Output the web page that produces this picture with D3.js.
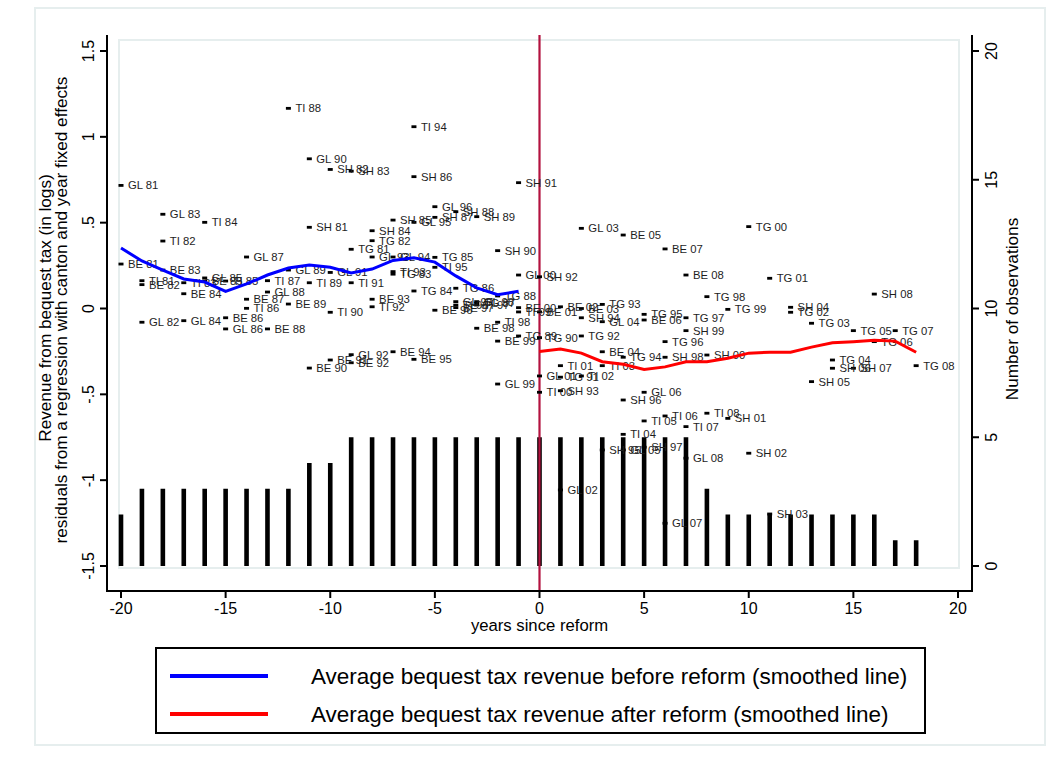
<!DOCTYPE html>
<html>
<head>
<meta charset="utf-8">
<script src="https://cdn.jsdelivr.net/npm/d3@7"></script>
<style>
  html, body { margin: 0; padding: 0; background: #fff; }
  svg text { font-family: "Liberation Sans", Arial, Helvetica, sans-serif; }
</style>
</head>
<body>
<svg id="chart" width="1053" height="765"></svg>
<script>
// Calendar years and their two-digit labels
const calYears = [1981,1982,1983,1984,1985,1986,1987,1988,1989,1990,1991,1992,1993,1994,
                  1995,1996,1997,1998,1999,2000,2001,2002,2003,2004,2005,2006,2007,2008];
const yearLabels = ["81","82","83","84","85","86","87","88","89","90","91","92","93","94",
                    "95","96","97","98","99","00","01","02","03","04","05","06","07","08"];

// Cantons and the year each reformed its bequest tax
const cantons = ["BE", "GL", "TI", "SH", "TG"];
const reformYears = [2001, 2001, 2000, 1992, 1990];

// Residual log revenue per canton, 1981-2008
const beResid = [0.259, 0.139, 0.224, 0.086, 0.160, -0.054, 0.054, -0.119, 0.026, -0.347,
                 -0.300, -0.316, 0.054, -0.252, -0.296, -0.010, 0.005, -0.115, -0.190, 0.005,
                 -0.020, 0.010, 0.000, -0.252, 0.428, -0.067, 0.347, 0.195];
const glResid = [0.717, -0.080, 0.549, -0.071, 0.178, -0.119, 0.300, 0.096, 0.224, 0.872,
                 0.210, -0.269, 0.300, 0.300, 0.502, 0.593, 0.040, 0.040, -0.440, 0.195,
                 -0.393, -1.057, 0.467, -0.077, -0.824, -0.488, -1.251, -0.872];
const tiResid = [0.162, 0.393, 0.150, 0.502, 0.160, 0.001, 0.162, 1.166, 0.150, -0.022,
                 0.150, 0.010, 0.215, 1.059, 0.240, 0.020, 0.020, -0.080, -0.020, -0.488,
                 -0.333, -0.393, -0.333, -0.733, -0.655, -0.626, -0.688, -0.610];
const shResid = [0.473, 0.810, 0.800, 0.453, 0.515, 0.768, 0.531, 0.564, 0.535, 0.337,
                 0.733, 0.185, -0.479, -0.054, -0.824, -0.533, -0.808, -0.284, -0.129, -0.271,
                 -0.640, -0.843, -1.197, 0.007, -0.426, -0.348, -0.348, 0.084];
const tgResid = [0.345, 0.395, 0.200, 0.102, 0.298, 0.118, 0.030, 0.073, -0.160, -0.170,
                 -0.400, -0.160, 0.024, -0.284, -0.034, -0.193, -0.054, 0.069, -0.005, 0.477,
                 0.176, -0.022, -0.086, -0.300, -0.129, -0.193, -0.129, -0.333];
const residSeries = [beResid, glResid, tiResid, shResid, tgResid];

// Number of observations at each year relative to reform
const obsX = [-20,-19,-18,-17,-16,-15,-14,-13,-12,-11,-10,-9,-8,-7,-6,-5,-4,-3,-2,-1,
              0,1,2,3,4,5,6,7,8,9,10,11,12,13,14,15,16,17,18];
const obsN = [2,3,3,3,3,3,3,3,3,4,4,5,5,5,5,5,5,5,5,5,
              5,5,5,5,5,5,5,5,3,2,2,2,2,2,2,2,2,1,1];

// Smoothed averages before and after the reform
const beforeX = [-20,-19,-18,-17,-16,-15,-14,-13,-12,-11,-10,-9,-8,-7,-6,-5,-4,-3,-2,-1];
const beforeY = [0.352,0.277,0.224,0.172,0.154,0.100,0.143,0.195,0.236,0.253,0.240,0.207,
                 0.230,0.280,0.295,0.270,0.190,0.120,0.080,0.100];
const afterX = [0,1,2,3,4,5,6,7,8,9,10,11,12,13,14,15,16,17,18];
const afterY = [-0.250,-0.236,-0.260,-0.310,-0.325,-0.355,-0.340,-0.310,-0.310,-0.290,
                -0.260,-0.255,-0.255,-0.225,-0.200,-0.193,-0.185,-0.190,-0.255];

// Axis ticks
const xTicks = [-20,-15,-10,-5,0,5,10,15,20];
const yTicks = [-1.5,-1,-0.5,0,0.5,1,1.5];
const yTickLabels = ["-1.5","-1","-.5","0",".5","1","1.5"];
const nTicks = [0,5,10,15,20];

const legendLabels = ["Average bequest tax revenue before reform (smoothed line)",
                      "Average bequest tax revenue after reform (smoothed line)"];
const legendColors = ["#0000ff", "#ff0000"];

const svg = d3.select("#chart");

const x = d3.scaleLinear().domain([-20, 20]).range([121, 958]);
const y = d3.scaleLinear().domain([-1.5, 1.5]).range([566, 51]);
const yN = d3.scaleLinear().domain([0, 20]).range([566, 51]);

// Outer graph frame
svg.append("rect").attr("x", 35).attr("y", 8).attr("width", 1010).attr("height", 737)
  .attr("fill", "#fff").attr("stroke", "#e6eeee").attr("stroke-width", 2);

// Plot region frame
svg.append("rect").attr("x", 119).attr("y", 40).attr("width", 840).attr("height", 528)
  .attr("fill", "#fff").attr("stroke", "#e6eeee").attr("stroke-width", 2);

// Observation-count bars on the right axis
const barW = x(0.22) - x(0);
svg.append("g").selectAll("rect").data(obsX).join("rect")
  .attr("x", (d) => x(d) - barW / 2)
  .attr("width", barW)
  .attr("y", (d, i) => yN(obsN[i]))
  .attr("height", (d, i) => yN(0) - yN(obsN[i]))
  .attr("fill", "#000");

// Reform line at year zero
svg.append("line").attr("x1", x(0)).attr("x2", x(0)).attr("y1", 35).attr("y2", 591)
  .attr("stroke", "#b3123f").attr("stroke-width", 2.2);

// Labelled canton-year points
const points = [];
cantons.forEach((c, ci) => {
  calYears.forEach((yr, yi) => {
    points.push({ x: yr - reformYears[ci], v: residSeries[ci][yi], label: c + " " + yearLabels[yi] });
  });
});
const pg = svg.append("g");
pg.selectAll("rect").data(points).join("rect")
  .attr("x", (d) => x(d.x) - 2.5).attr("y", (d) => y(d.v) - 1.4)
  .attr("width", 5).attr("height", 2.8).attr("fill", "#000");
pg.selectAll("text").data(points).join("text")
  .attr("x", (d) => x(d.x) + 7).attr("y", (d) => y(d.v) + 4)
  .attr("font-size", 11.3).attr("fill", "#1e1e1e").text((d) => d.label);

// Smoothed lines
const line = d3.line().x((d) => x(d[0])).y((d) => y(d[1]));
svg.append("path").datum(beforeX.map((d, i) => [d, beforeY[i]]))
  .attr("d", line).attr("fill", "none").attr("stroke", "#0000ff").attr("stroke-width", 3);
svg.append("path").datum(afterX.map((d, i) => [d, afterY[i]]))
  .attr("d", line).attr("fill", "none").attr("stroke", "#ff0000").attr("stroke-width", 3);

// Left axis
const axL = svg.append("g");
axL.append("line").attr("x1", 107).attr("x2", 107).attr("y1", 35).attr("y2", 592)
  .attr("stroke", "#000").attr("stroke-width", 2);
yTicks.forEach((t, i) => {
  axL.append("line").attr("x1", 100).attr("x2", 107).attr("y1", y(t)).attr("y2", y(t))
    .attr("stroke", "#000").attr("stroke-width", 2);
  axL.append("text").attr("transform", `translate(94,${y(t)}) rotate(-90)`)
    .attr("text-anchor", "middle").attr("font-size", 16).text(yTickLabels[i]);
});
axL.append("text").attr("transform", `translate(51,308) rotate(-90)`)
  .attr("text-anchor", "middle").attr("font-size", 17.2).text("Revenue from bequest tax (in logs)");
axL.append("text").attr("transform", `translate(67,310) rotate(-90)`)
  .attr("text-anchor", "middle").attr("font-size", 17.2)
  .text("residuals from a regression with canton and year fixed effects");

// Right axis
const axR = svg.append("g");
axR.append("line").attr("x1", 972).attr("x2", 972).attr("y1", 35).attr("y2", 592)
  .attr("stroke", "#000").attr("stroke-width", 2);
nTicks.forEach((t) => {
  axR.append("line").attr("x1", 972).attr("x2", 979).attr("y1", yN(t)).attr("y2", yN(t))
    .attr("stroke", "#000").attr("stroke-width", 2);
  axR.append("text").attr("transform", `translate(997,${yN(t)}) rotate(-90)`)
    .attr("text-anchor", "middle").attr("font-size", 16).text(t);
});
axR.append("text").attr("transform", `translate(1018,309) rotate(-90)`)
  .attr("text-anchor", "middle").attr("font-size", 17.2).text("Number of observations");

// Bottom axis
const axB = svg.append("g");
axB.append("line").attr("x1", 106).attr("x2", 973).attr("y1", 591).attr("y2", 591)
  .attr("stroke", "#000").attr("stroke-width", 2);
xTicks.forEach((t) => {
  axB.append("line").attr("x1", x(t)).attr("x2", x(t)).attr("y1", 591).attr("y2", 598)
    .attr("stroke", "#000").attr("stroke-width", 2);
  axB.append("text").attr("x", x(t)).attr("y", 614).attr("text-anchor", "middle")
    .attr("font-size", 16).text(t);
});
axB.append("text").attr("x", x(0)).attr("y", 631).attr("text-anchor", "middle")
  .attr("font-size", 16.7).text("years since reform");

// Legend
const lg = svg.append("g");
lg.append("rect").attr("x", 156).attr("y", 648).attr("width", 769).attr("height", 85)
  .attr("fill", "#fff").attr("stroke", "#000").attr("stroke-width", 2);
legendLabels.forEach((t, i) => {
  const cy = 676 + i * 38;
  lg.append("line").attr("x1", 170).attr("x2", 268).attr("y1", cy).attr("y2", cy)
    .attr("stroke", legendColors[i]).attr("stroke-width", 4);
  lg.append("text").attr("x", 311).attr("y", cy + 8).attr("font-size", 22.5).text(t);
});
</script>
</body>
</html>
